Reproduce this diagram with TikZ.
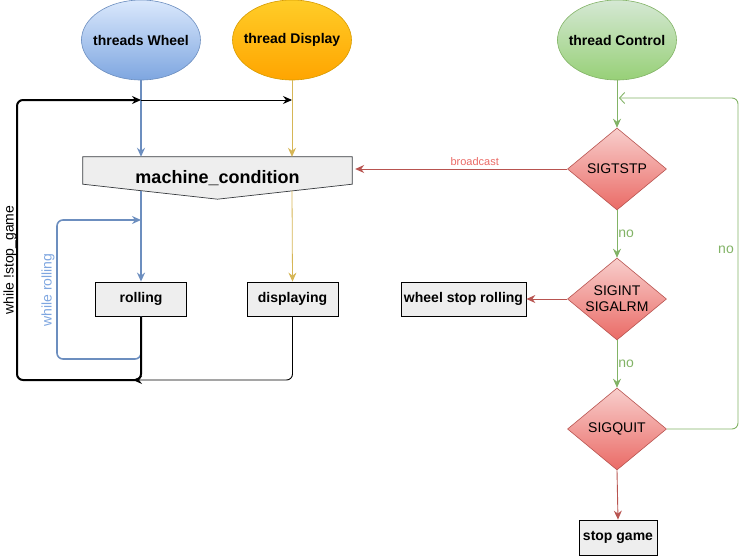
\documentclass[tikz,border=0pt]{standalone}
\usepackage{fontspec}
\setmainfont{Liberation Sans}
\usetikzlibrary{shapes.geometric,arrows.meta,calc}
\definecolor{blueS}{HTML}{6C8EBF}
\definecolor{blueT}{HTML}{DAE8FC}
\definecolor{blueB}{HTML}{7EA6E0}
\definecolor{oraS}{HTML}{D79B00}
\definecolor{oraT}{HTML}{FFCD28}
\definecolor{oraB}{HTML}{FFA500}
\definecolor{grnS}{HTML}{82B366}
\definecolor{grnT}{HTML}{D5E8D4}
\definecolor{grnB}{HTML}{97D077}
\definecolor{redS}{HTML}{B85450}
\definecolor{redT}{HTML}{F8CECC}
\definecolor{redB}{HTML}{EA6B66}
\definecolor{yelS}{HTML}{D6B656}
\definecolor{boxF}{HTML}{EEEEEE}
\definecolor{mcS}{HTML}{36393D}
\begin{document}
\begin{tikzpicture}[x=1pt,y=-1pt,
  f14/.style={font=\fontsize{14}{16}\selectfont},
  thread/.style={ellipse, minimum width=119pt, minimum height=80pt, inner xsep=-9pt, inner ysep=0pt,
    font=\bfseries\fontsize{14}{16}\selectfont, line width=0.6pt},
  sig/.style={diamond, minimum width=99pt, minimum height=82pt, inner sep=0pt, aspect=1.2,
    draw=redS, line width=0.6pt, top color=redT, bottom color=redB,
    font=\fontsize{14}{16}\selectfont, align=center},
  box/.style={rectangle, draw=black, fill=boxF, font=\bfseries\fontsize{14}{16}\selectfont,
    minimum height=34pt, inner sep=2pt, line width=0.8pt},
  arrowtip/.style={-{Stealth[length=9pt,width=8pt,inset=3pt]}},
  bluearrow/.style={draw=blueS, line width=1.6pt, arrowtip},
  yelarrow/.style={draw=yelS, line width=0.8pt, arrowtip},
  grnarrow/.style={draw=grnS, line width=0.9pt, arrowtip},
  redarrow/.style={draw=redS, line width=0.9pt, arrowtip},
  lbl/.style={inner sep=0pt}
]
\useasboundingbox (0,0) rectangle (748,557);

% threads
\node[thread, draw=blueS, top color=blueT, bottom color=blueB] (tw) at (141,40) {threads Wheel};
\node[thread, draw=oraS, top color=oraT, bottom color=oraB] (td) at (292,40) {thread Display};
\node[thread, draw=grnS, top color=grnT, bottom color=grnB] (tc) at (617,40) {thread Control};

% machine condition
\node[minimum width=269pt, minimum height=42pt, inner sep=0pt] (mc) at (217.5,178) {};
\fill[boxF] (mc.north west) -- (mc.north east) -- ([yshift=15pt]mc.south east) -- (mc.south) -- ([yshift=15pt]mc.south west) -- cycle;
\draw[mcS, line width=0.7pt] (mc.north west) -- (mc.north east) -- ([yshift=15pt]mc.south east) -- (mc.south) -- ([yshift=15pt]mc.south west) -- cycle;
\node[lbl, font=\bfseries\fontsize{18}{20}\selectfont] (mctext) at (mc) {machine\_condition};

% boxes
\node[box, minimum width=91pt] (roll) at (141,299) {rolling};
\node[box, minimum width=91pt] (disp) at (292.5,299) {displaying};
\node[box, minimum width=125pt] (wsr) at (463.5,299) {wheel stop rolling};
\node[box, minimum width=78pt, minimum height=35pt] (sg) at (618,537.5) {stop game};

% diamonds
\node[sig] (s1) at (617,169) {SIGTSTP};
\node[sig] (s2) at (617,299) {SIGINT\\SIGALRM};
\node[sig] (s3) at (617,429) {SIGQUIT};

% helper coordinates
\coordinate (jw) at (141,100);
\coordinate (cbl) at (17,380);
\coordinate (ctl) at (17,100);
\coordinate (mcw) at (141,190.5);
\coordinate (mcd) at (292,190.5);
\coordinate (rl1) at (57,359);
\coordinate (rl2) at (57,220);
\coordinate (gr) at (738,98);

% wheel / display flows
\draw[bluearrow] (tw.south) -- (tw |- mc.north);
\draw[yelarrow] (td.south) -- (td |- mc.north);
\draw[bluearrow] (mcw) -- (roll.north);
\draw[yelarrow] (mcd) -- (disp.north);

% while rolling loop
\draw[bluearrow, rounded corners=6pt] (roll.south) -- (roll.south |- rl1) -- (rl1) -- (rl2) -- (roll.north |- rl2);
\node[lbl, rotate=90, text=blueB, f14] at (48,290) {while rolling};

% while !stop_game loop
\draw[black, line width=2pt, arrowtip, rounded corners=6pt] (roll.south) -- (roll.south |- cbl) -- (cbl) -- (ctl) -- (jw);
\draw[black, line width=0.9pt, arrowtip] (jw) -- (jw -| td);
\draw[black, line width=0.9pt, arrowtip, rounded corners=6pt] (disp.south) -- (disp.south |- cbl) -- ([xshift=-8pt]roll.south |- cbl);
\node[lbl, rotate=90, f14] at (10,260) {while !stop\_game};

% control flow
\draw[grnarrow] (tc.south) -- (s1.north);
\draw[grnarrow] (s1.south) -- node[pos=0.5, right, lbl, xshift=1pt, text=grnS, f14] {no} (s2.north);
\draw[grnarrow] (s2.south) -- node[pos=0.5, right, lbl, xshift=1pt, text=grnS, f14] {no} (s3.north);
\draw[draw=grnS, line width=0.9pt, -{Straight Barb[length=5pt,width=11pt]}, rounded corners=6pt]
  (s3.east) -- (s3.east -| gr) -- (gr) -- ([xshift=2pt]gr -| tc);
\node[lbl, text=grnS, f14] at (726,250) {no};

\draw[redarrow, shorten >=3pt] (s1.west) -- node[pos=0.43, above=3pt, lbl, text=redB, font=\fontsize{11}{13}\selectfont] {broadcast} (s1.west -| mc.east);
\draw[redarrow] (s2.west) -- (wsr.east);
\draw[redarrow] (s3.south) -- (sg.north);
\end{tikzpicture}
\end{document}
